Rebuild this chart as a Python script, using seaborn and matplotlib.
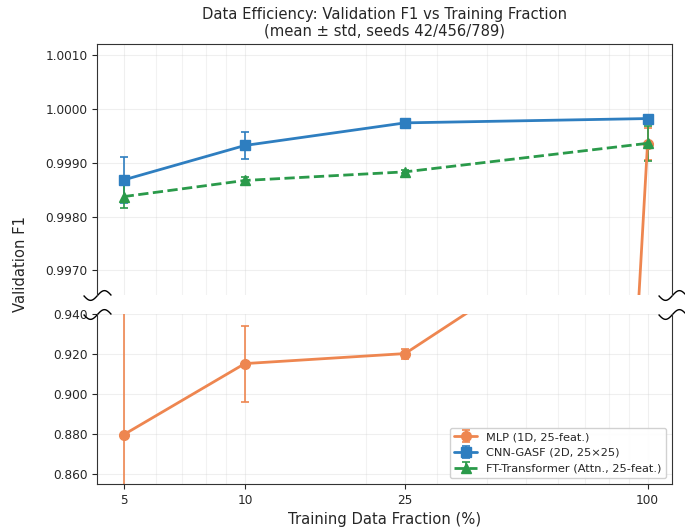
import numpy as np
import matplotlib
matplotlib.use("Agg")
import matplotlib.pyplot as plt
from matplotlib.path import Path
from matplotlib.ticker import FixedLocator, FormatStrFormatter, NullFormatter
import seaborn as sns

sns.set_style("ticks")
plt.rcParams["font.family"] = ["DejaVu Sans"]

# data: mean and std over seeds
fractions = [5, 10, 25, 100]
models = ["MLP (1D, 25-feat.)", "CNN-GASF (2D, 25×25)", "FT-Transformer (Attn., 25-feat.)"]
mlp_mean = [0.8795, 0.9150, 0.9200, 0.99935]
mlp_std = [0.0700, 0.0190, 0.0025, 0.0003]
cnn_mean = [0.99868, 0.99932, 0.99974, 0.99982]
cnn_std = [0.00042, 0.00025, 0.00002, 0.00002]
ft_mean = [0.99837, 0.99867, 0.99883, 0.99936]
ft_std = [0.00022, 0.00007, 0.00003, 0.00033]

colors = ["#EE8650", "#2E7EC0", "#2A9A4A"]
markers = ["o", "s", "^"]
styles = ["-", "-", "--"]
means = [mlp_mean, cnn_mean, ft_mean]
stds = [mlp_std, cnn_std, ft_std]

fig, (ax_top, ax_bot) = plt.subplots(
    2, 1, sharex=True, figsize=(6.85, 5.27), dpi=100,
    gridspec_kw={"height_ratios": [1.47, 1], "hspace": 0.09})

for ax in (ax_top, ax_bot):
    for name, m, s, c, mk, ls in zip(models, means, stds, colors, markers, styles):
        ax.errorbar(fractions, m, yerr=s, label=name, color=c, marker=mk,
                    linestyle=ls, linewidth=2, markersize=7, capsize=3,
                    elinewidth=1.2, capthick=1.2)
    ax.set_xscale("log")
    ax.grid(True, which="major", alpha=0.3)
    ax.grid(True, which="minor", axis="x", alpha=0.25)
    ax.tick_params(axis="both", labelsize=8.7)
    for sp in ax.spines.values():
        sp.set_color("#333333")

ax_bot.set_xlim(4.3, 115)
ax_top.set_ylim(0.99655, 1.0012)
ax_bot.set_ylim(0.855, 0.940)
ax_top.yaxis.set_major_locator(FixedLocator([0.9970, 0.9980, 0.9990, 1.0000, 1.0010]))
ax_top.yaxis.set_major_formatter(FormatStrFormatter("%.4f"))
ax_bot.yaxis.set_major_locator(FixedLocator([0.860, 0.880, 0.900, 0.920, 0.940]))
ax_bot.yaxis.set_major_formatter(FormatStrFormatter("%.3f"))

ax_bot.set_xticks(fractions)
ax_bot.set_xticklabels([str(f) for f in fractions])
ax_bot.xaxis.set_minor_formatter(NullFormatter())
ax_top.tick_params(axis="x", which="both", bottom=False, labelbottom=False)
ax_bot.tick_params(axis="x", which="minor", length=0)

ax_top.spines["bottom"].set_visible(False)
ax_bot.spines["top"].set_visible(False)

# wavy break marks
t = np.linspace(-1, 1, 40)
wave = Path(np.column_stack([t, 0.35 * np.sin(t * np.pi)]))
for ax, yy in ((ax_top, 0), (ax_bot, 1)):
    ax.plot([0, 1], [yy, yy], transform=ax.transAxes, marker=wave,
            markersize=20, linestyle="none", color="k", clip_on=False,
            markerfacecolor="none", markeredgewidth=1, scalex=False, scaley=False)
ax_bot.set_xlim(4.3, 115)

ax_top.set_title("Data Efficiency: Validation F1 vs Training Fraction\n"
                 "(mean ± std, seeds 42/456/789)", fontsize=10.6)
ax_bot.set_xlabel("Training Data Fraction (%)", fontsize=10.6)
fig.text(0.03, 0.5, "Validation F1", rotation=90, va="center", ha="center",
         fontsize=10.6)

ax_bot.legend(loc="lower right", fontsize=8.2, framealpha=0.9)

fig.subplots_adjust(left=0.142, right=0.981, top=0.916, bottom=0.082)
fig.savefig("out.png", dpi=100)
